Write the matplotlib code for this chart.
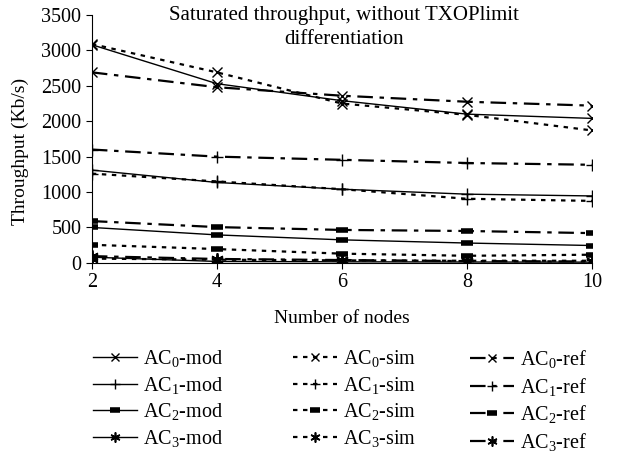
import matplotlib
matplotlib.use('Agg')
import matplotlib.pyplot as plt
import numpy as np

plt.rcParams['font.family'] = 'Liberation Serif'
plt.rcParams['mathtext.fontset'] = 'custom'
plt.rcParams['mathtext.rm'] = 'Liberation Serif'
plt.rcParams['mathtext.it'] = 'Liberation Serif'

# ── data ──────────────────────────────────────────────────────────────────────
nodes = [2, 4, 6, 8, 10]

ac0_mod = [3080, 2530, 2290, 2100, 2040]
ac0_sim = [3090, 2690, 2250, 2090, 1870]
ac0_ref = [2690, 2480, 2360, 2275, 2220]

ac1_mod = [1310, 1135, 1040, 970, 945]
ac1_sim = [1260, 1150, 1040, 905, 875]
ac1_ref = [1600, 1500, 1455, 1410, 1385]

ac2_mod = [500, 395, 325, 280, 245]
ac2_sim = [255, 195, 130, 100, 115]
ac2_ref = [590, 505, 465, 450, 420]

ac3_mod = [80, 20, 15, 12, 10]
ac3_sim = [60, 45, 35, 30, 30]
ac3_ref = [95, 55, 40, 25, 20]

# ── styles ────────────────────────────────────────────────────────────────────
markers = {
    0: dict(marker='x', ms=7, mew=1.0),
    1: dict(marker='+', ms=9, mew=1.0),
    2: dict(marker='_', ms=9, mew=4.0),
    3: dict(marker=(6, 2, 0), ms=9, mew=1.2),
}
styles = {
    'mod': dict(ls='-', lw=1.0),
    'sim': dict(ls=(0, (2, 2.5)), lw=1.6),
    'ref': dict(ls=(0, (7, 3, 2, 3)), lw=1.6),
}

series = {
    'mod': [ac0_mod, ac1_mod, ac2_mod, ac3_mod],
    'sim': [ac0_sim, ac1_sim, ac2_sim, ac3_sim],
    'ref': [ac0_ref, ac1_ref, ac2_ref, ac3_ref],
}

fig = plt.figure(figsize=(6.25, 4.54), dpi=100)
ax = fig.add_axes([0.147, 0.421, 0.80, 0.546])
fsize = 14

handles = {}
for kind, group in series.items():
    handles[kind] = []
    for ac, vals in enumerate(group):
        h, = ax.plot(nodes, vals, color='black', label=f'AC$_{ac}$-{kind}',
                     **styles[kind], **markers[ac])
        handles[kind].append(h)

ax.set_xlim(2, 10)
ax.set_ylim(0, 3500)
ax.set_xticks(nodes)
ax.set_yticks(np.arange(0, 3501, 500))
ax.tick_params(labelsize=fsize + 0.5, direction='out', length=4)
ax.spines['top'].set_visible(False)
ax.spines['right'].set_visible(False)
ax.set_xlabel('Number of nodes', fontsize=fsize, labelpad=13)
ax.set_ylabel('Throughput (Kb/s)', fontsize=fsize)
ax.yaxis.set_label_coords(-0.126, 0.45)
ax.text(0.505, 1.035, 'Saturated throughput, without TXOPlimit\ndifferentiation',
        transform=ax.transAxes, ha='center', va='top', fontsize=fsize + 1,
        linespacing=1.35)

# three legend columns placed separately (columns are unevenly spaced)
col_x = [93, 293, 470]
for x0, kind in zip(col_x, ['mod', 'sim', 'ref']):
    fig.legend(handles=handles[kind], loc='upper left',
               bbox_to_anchor=(x0 / 625, 1 - 348 / 454),
               frameon=False, fontsize=fsize + 0.5, handlelength=2.2,
               labelspacing=0.28, handletextpad=0.3, borderpad=0,
               borderaxespad=0, markerscale=0.8)

fig.savefig('out.png', dpi=100)
